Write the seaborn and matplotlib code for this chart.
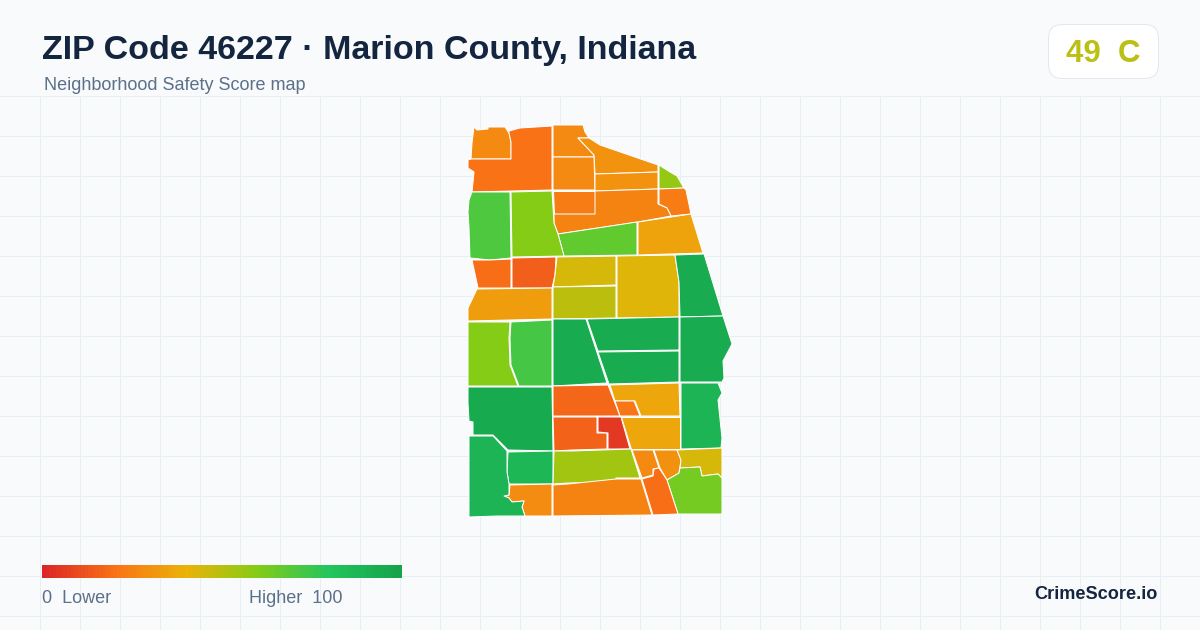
import numpy as np
import matplotlib
matplotlib.use("Agg")
import matplotlib.pyplot as plt
from matplotlib.patches import FancyBboxPatch
import seaborn as sns

title = "ZIP Code 46227 · Marion County, Indiana"
subtitle = "Neighborhood Safety Score map"
badge_score = "49  C"
brand = "CrimeScore.io"

# safety score of each tract
tract_scores = [27, 20, 27, 30, 27, 30, 57, 23, 23, 25, 67, 35, 71, 60, 19, 15, 44, 42, 95,
                33, 49, 60, 73, 95, 95, 95, 95, 96, 17, 36, 21, 16, 5, 36, 90, 88, 54, 27,
                29, 44, 63, 19, 25, 28, 90]

tract_outlines = [
    [(474,127),(477,130),(488,129),(488,127),(505,127),(509,133),(511,142),(511,159),(471,159),(472,143)],
    [(509,131),(520,128),(552,126),(552,190),(472,192),(474,172),(468,168),(468,160),(471,159),(511,159),(511,142),(509,133)],
    [(553,125),(583,125),(585,132),(589,138),(578,138),(594,155),(594,157),(553,157)],
    [(578,138),(589,138),(600,145),(658,165),(658,172),(595,174),(594,155)],
    [(553,157),(594,157),(595,190),(553,190)],
    [(595,174),(658,172),(658,189),(595,191)],
    [(659,165),(670,172),(677,176),(684,188),(659,189)],
    [(659,189),(684,188),(686,190),(691,214),(671,216),(667,208),(659,204)],
    [(553,191),(595,191),(595,214),(554,214)],
    [(554,214),(595,214),(595,191),(658,189),(658,204),(667,208),(671,216),(638,222),(558,234),(554,223)],
    [(558,234),(637,222),(637,255),(564,256)],
    [(638,222),(691,214),(703,253),(638,255)],
    [(472,192),(510,192),(511,258),(490,260),(470,258),(469,228),(468,212),(469,200)],
    [(511,192),(552,191),(554,223),(558,234),(564,256),(512,257)],
    [(472,260),(490,260),(511,259),(511,288),(478,288),(475,274)],
    [(512,258),(556,257),(555,275),(552,288),(512,288)],
    [(557,257),(616,256),(616,285),(553,287),(555,275)],
    [(617,256),(675,255),(679,282),(679,317),(617,318)],
    [(675,255),(704,254),(723,316),(680,317),(679,282)],
    [(477,289),(552,288),(552,319),(510,320),(468,321),(468,308)],
    [(553,287),(616,286),(616,318),(553,319)],
    [(468,322),(510,322),(509,338),(510,365),(518,386),(468,386)],
    [(511,322),(552,320),(552,386),(519,386),(511,365),(510,338)],
    [(553,319),(586,319),(607,383),(553,386)],
    [(587,319),(679,317),(679,350),(598,351)],
    [(598,352),(679,351),(679,382),(609,384)],
    [(680,317),(723,316),(732,344),(723,361),(724,378),(722,382),(680,382)],
    [(468,387),(552,387),(553,451),(508,450),(493,435),(473,435),(473,422),(469,421),(468,403)],
    [(553,386),(608,385),(620,416),(553,416)],
    [(610,385),(679,383),(680,416),(641,416),(635,401),(615,401)],
    [(615,401),(634,401),(640,416),(620,416)],
    [(553,417),(597,417),(597,433),(607,433),(607,449),(572,450),(554,451)],
    [(598,417),(621,417),(630,449),(608,449),(608,433),(598,432)],
    [(621,417),(680,417),(680,449),(631,449)],
    [(681,383),(718,383),(722,393),(718,400),(722,438),(721,448),(681,449)],
    [(508,452),(553,451),(553,484),(509,484),(507,472)],
    [(554,451),(572,451),(631,449),(640,478),(616,478),(615,482),(568,483),(553,484)],
    [(632,450),(653,450),(659,468),(653,469),(653,475),(642,478)],
    [(654,450),(677,450),(681,460),(679,473),(667,480),(660,468)],
    [(677,450),(722,448),(722,478),(718,474),(702,476),(700,467),(680,468),(681,460)],
    [(680,468),(700,467),(702,476),(718,474),(722,478),(722,514),(678,514),(667,480),(679,473)],
    [(642,479),(653,476),(654,469),(659,468),(667,480),(678,514),(653,515)],
    [(553,485),(568,484),(616,479),(641,479),(652,515),(553,516)],
    [(510,485),(552,484),(552,516),(525,516),(522,507),(524,501),(512,502),(509,498),(504,496),(509,495)],
    [(469,436),(493,436),(507,451),(507,472),(509,484),(509,495),(504,496),(509,498),(512,502),(524,501),(522,507),(525,516),(497,516),(469,517)],
]

score_stops = ["#dc2626", "#f97316", "#eab308", "#84cc16", "#22c55e", "#16a34a"]
legend_scores = np.arange(0, 101)

sns.set_theme(style="white")
plt.rcParams["font.family"] = ["Liberation Sans", "DejaVu Sans"]

bg = "#f8fafc"
grid_col = "#e8eff3"
dark = "#14263f"
slate = "#5b7089"
score_cmap = sns.blend_palette(score_stops, as_cmap=True)

fig = plt.figure(figsize=(12, 6.3), dpi=100, facecolor=bg)

# background grid only starts under the header
grid_ax = fig.add_axes([0, 0, 1, 534 / 630], facecolor=bg)
grid_ax.set_xlim(0, 1200)
grid_ax.set_ylim(630, 96)
grid_ax.set_xticks(np.arange(40, 1200, 40))
grid_ax.set_yticks(np.arange(96, 630, 40))
grid_ax.grid(True, color=grid_col, linewidth=0.72)
grid_ax.tick_params(length=0, labelbottom=False, labelleft=False)
sns.despine(ax=grid_ax, left=True, bottom=True)

ax = fig.add_axes([0, 0, 1, 1])
ax.patch.set_alpha(0)
ax.set_xlim(0, 1200)
ax.set_ylim(630, 0)
ax.axis("off")

for outline, score in zip(tract_outlines, tract_scores):
    xs, ys = zip(*outline)
    ax.fill(xs, ys, facecolor=score_cmap(score / 100), edgecolor="white", linewidth=0.72, joinstyle="round")

ax.text(42, 50.5, title, fontsize=24.45, fontweight="bold", color=dark, va="center", ha="left")
ax.text(44, 86, subtitle, fontsize=12.95, color=slate, va="center", ha="left")

badge = FancyBboxPatch((1048.5, 24.5), 110, 54, boxstyle="round,pad=0,rounding_size=14",
                       facecolor="white", edgecolor="#e2e8f0", linewidth=0.72)
ax.add_patch(badge)
ax.text(1103, 53.5, badge_score, fontsize=22.5, fontweight="bold", color="#bcbf14", va="center", ha="center")

# legend bar
bar_ax = fig.add_axes([42 / 1200, 1 - 578 / 630, 360 / 1200, 13 / 630])
sns.heatmap(legend_scores.reshape(1, -1), cmap=score_cmap, vmin=0, vmax=100, cbar=False,
            xticklabels=False, yticklabels=False, ax=bar_ax)

ax.text(42, 598.5, "0  Lower", fontsize=12.95, color=slate, va="center", ha="left")
ax.text(249, 598.5, "Higher  100", fontsize=12.95, color=slate, va="center", ha="left")
ax.text(1158, 594.5, brand, fontsize=13.05, fontweight="bold", color=dark, va="center", ha="right")

fig.savefig("out.png", dpi=100, facecolor=bg)
